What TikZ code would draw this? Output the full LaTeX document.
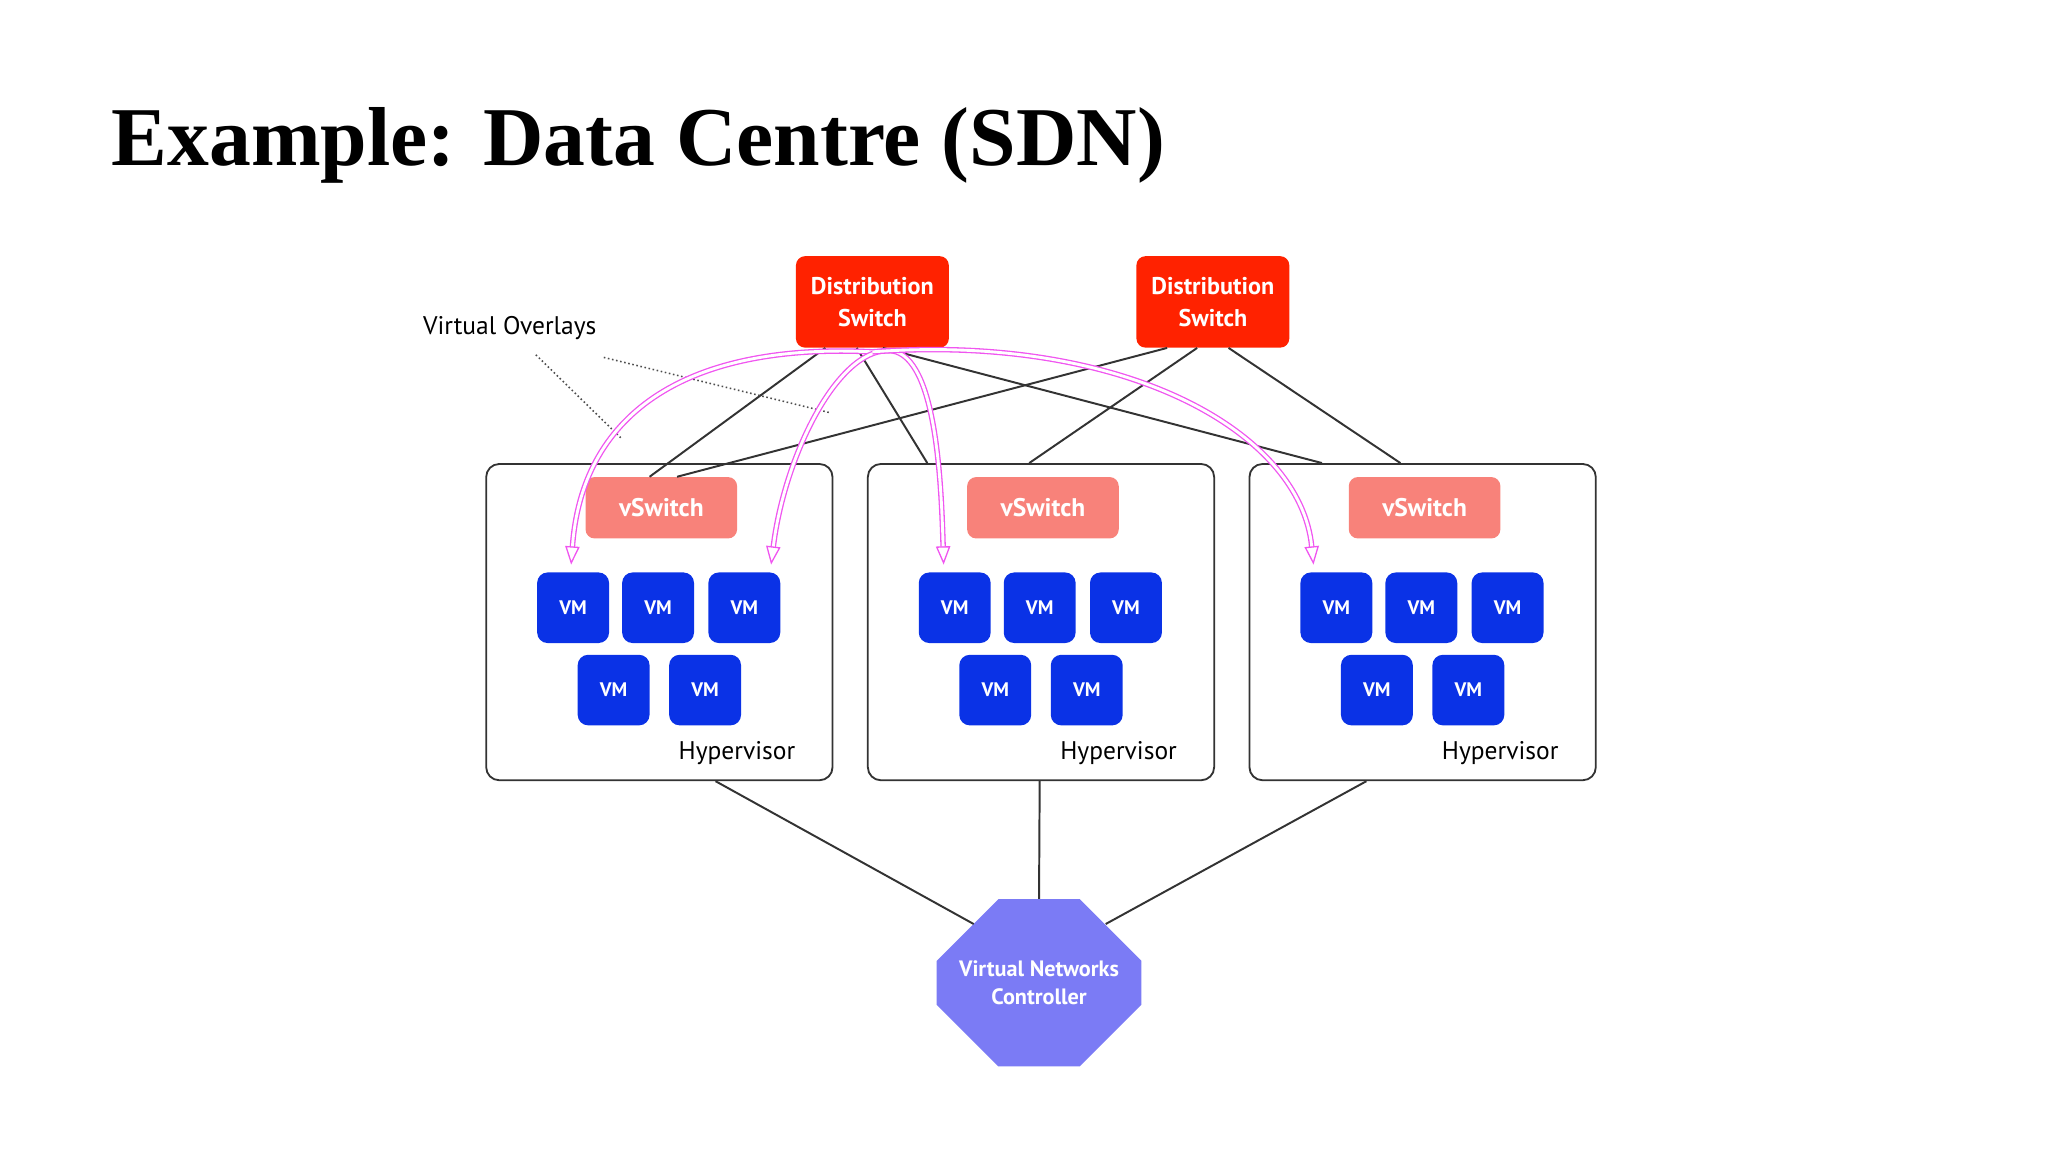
\documentclass[tikz,border=0pt]{standalone}
\usepackage{fontspec}
\setmainfont{Liberation Serif}
\newfontfamily\dg{PT Sans}
\usetikzlibrary{arrows.meta,shapes.geometric,shapes.misc}
\definecolor{dsred}{HTML}{FF2200}
\definecolor{vsw}{HTML}{F8827A}
\definecolor{vmblue}{HTML}{0A32E6}
\definecolor{ctrl}{HTML}{7B7BF5}
\definecolor{ovl}{HTML}{F055F0}
\begin{document}
\begin{tikzpicture}[x=1pt,y=-1pt,
  ds/.style={fill=dsred,rounded corners=7pt,minimum width=117pt,minimum height=70pt,text=white,align=center,font=\dg\bfseries\fontsize{18.5}{24}\selectfont},
  hv/.style={draw=black!80,line width=1.4pt,rounded corners=10pt,minimum width=265pt,minimum height=242pt},
  vs/.style={fill=vsw,rounded corners=7pt,minimum width=116pt,minimum height=47pt,text=white,font=\dg\bfseries\fontsize{19.5}{22}\selectfont},
  vm/.style={fill=vmblue,rounded corners=8pt,minimum width=55pt,minimum height=54pt,text=white,font=\dg\bfseries\fontsize{15}{17}\selectfont},
  lbl/.style={font=\dg\fontsize{19.5}{22}\selectfont},
  ln/.style={draw=black!80,line width=1.5pt},
  ov/.style={draw=ovl,double=white,double distance=2.2pt,line width=1pt,-{Triangle[open,length=14pt,width=11pt]}}]
\useasboundingbox (0,0) rectangle (1567,881.4);
\node[anchor=base west,font=\bfseries\fontsize{64}{70}\selectfont] (title) at (82,127) {Example: Data Centre (SDN)};
\node[ds] (ds1) at (667.5,231) {Distribution\\Switch};
\node[ds] (ds2) at (928,231) {Distribution\\Switch};
\foreach \i/\dx in {1/0,2/292,3/584}{
  \node[hv] (hv\i) at (504.5+\dx,476) {};
  \node[vs] (vs\i) at (506+\dx,388.5) {vSwitch};
  \node[vm] (vm\i a) at (438.5+\dx,465) {VM};
  \node[vm] (vm\i b) at (503.5+\dx,465) {VM};
  \node[vm] (vm\i c) at (569.5+\dx,465) {VM};
  \node[vm] (vm\i d) at (469.5+\dx,528) {VM};
  \node[vm] (vm\i e) at (539.5+\dx,528) {VM};
  \node[lbl,anchor=east] (hl\i) at (612+\dx,576) {Hypervisor};
}
\node[chamfered rectangle,chamfered rectangle xsep=32pt,chamfered rectangle ysep=30pt,fill=ctrl,minimum width=140pt,minimum height=128pt,inner sep=0pt,text=white,align=center,font=\dg\bfseries\fontsize{17}{22}\selectfont] (vnc) at (795,752) {Virtual Networks\\Controller};
\node[lbl] (ovlab) at (390,251) {Virtual Overlays};
% uplinks
\draw[ln] ([xshift=-36pt]ds1.south) -- ([xshift=-9pt]vs1.north);
\draw[ln] ([xshift=-12pt]ds1.south) -- ([xshift=-87pt]hv2.north);
\draw[ln] ([xshift=8pt]ds1.south) -- ([xshift=-77pt]hv3.north);
\draw[ln] ([xshift=-35pt]ds2.south) -- ([xshift=12pt]vs1.north);
\draw[ln] ([xshift=-12pt]ds2.south) -- ([xshift=-9pt]hv2.north);
\draw[ln] ([xshift=12pt]ds2.south) -- ([xshift=-17pt]hv3.north);
% controller links
\coordinate (c1) at (745,707);
\coordinate (c3) at (846,707);
\draw[ln] ([xshift=43pt]hv1.south) -- (c1);
\draw[ln] ([xshift=-1pt]hv2.south) -- (vnc.north);
\draw[ln] ([xshift=-43pt]hv3.south) -- (c3);
% dotted
\draw[black!70,dotted,line width=1.2pt] ([xshift=20pt,yshift=-8pt]ovlab.south) -- (475,335);
\draw[black!70,dotted,line width=1.2pt] ([xshift=72pt,yshift=-10pt]ovlab.south) -- (636,316);
% overlays
\coordinate (t1) at (437,432);
\coordinate (t2) at (590,432);
\coordinate (t3) at (722,432);
\coordinate (t4) at (1005,432);
\draw[ov] ([yshift=-3pt]ds1.south) .. controls (520,262) and (445,320) .. (t1);
\draw[ov] ([xshift=12pt,yshift=-2pt]ds1.south) .. controls (640,268) and (600,350) .. (t2);
\draw[ov] ([xshift=12pt,yshift=-2pt]ds1.south) .. controls (715,268) and (720,360) .. (t3);
\draw[ov] ([yshift=-3pt]ds1.south) .. controls (860,255) and (995,330) .. (t4);
\end{tikzpicture}
\end{document}
